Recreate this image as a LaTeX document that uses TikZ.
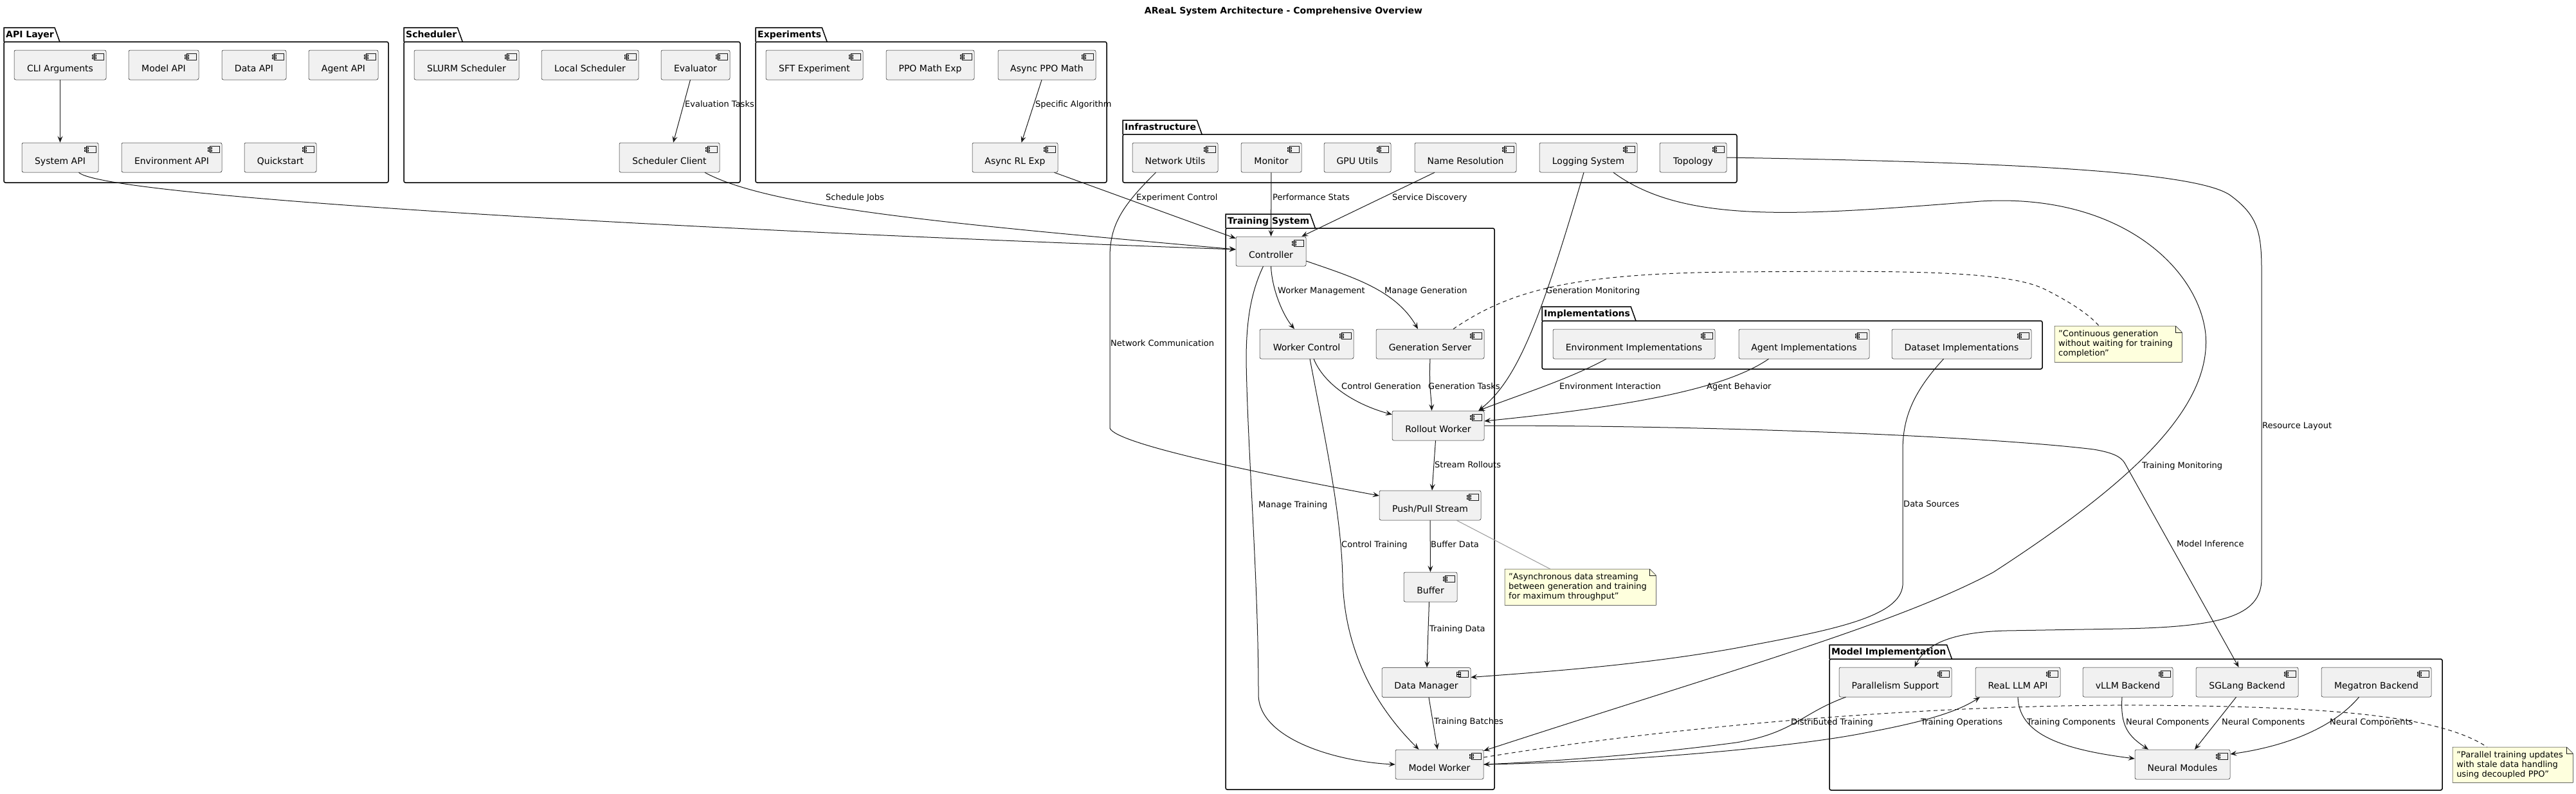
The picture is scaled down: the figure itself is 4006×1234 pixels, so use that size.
\documentclass[tikz,border=0pt]{standalone}
\usepackage{fontspec}
\setmainfont{DejaVu Sans}
\usetikzlibrary{arrows.meta,backgrounds}

\definecolor{compfill}{HTML}{F1F1F1}
\definecolor{compline}{HTML}{181818}
\definecolor{notefill}{HTML}{FEFFDD}

% package frame: name, left, tab top, right, bottom, title
\newcommand{\pkgbox}[6]{%
	\node[pkgtitle, anchor=north west] (#1) at (#2,#3) {#6};
	\draw[pkgline] (#2,#3+22) -- (#2,#3) -- ([xshift=-2pt]#1.north east) -- ([xshift=6pt]#1.south east);
	\draw[pkgline, rounded corners=2.5pt] (#2,#3+22) rectangle (#4,#5);
}

% note: name, left, top, text width, height, text
\newcommand{\notecard}[6]{%
	\node[notetext, anchor=north west, text width=#4pt, minimum height=#5pt] (#1) at (#2,#3) {#6};
	\begin{scope}[on background layer]
		\draw[noteline, fill=notefill] (#1.north west) -- ([xshift=-10pt]#1.north east) -- ([yshift=-10pt]#1.north east) -- (#1.south east) -- (#1.south west) -- cycle;
	\end{scope}
	\draw[noteline] ([xshift=-10pt]#1.north east) |- ([yshift=-10pt]#1.north east);
}

\begin{document}
\begin{tikzpicture}[x=1pt, y=-1pt,
	pkgline/.style={draw=black, line width=1.5pt},
	pkgtitle/.style={inner xsep=3pt, inner ysep=0pt, minimum height=22pt, text height=10.5pt, text depth=2.5pt, font=\bfseries\fontsize{14}{16}\selectfont},
	compicon/.style={path picture={
		\draw[compline, line width=0.5pt, fill=compfill, sharp corners]
			([xshift=-19pt,yshift=-5pt]path picture bounding box.north east) rectangle ([xshift=-4pt,yshift=-15pt]path picture bounding box.north east)
			([xshift=-22pt,yshift=-7pt]path picture bounding box.north east) rectangle ([xshift=-16pt,yshift=-9.5pt]path picture bounding box.north east)
			([xshift=-22pt,yshift=-11pt]path picture bounding box.north east) rectangle ([xshift=-16pt,yshift=-13.5pt]path picture bounding box.north east);
	}},
	comp/.style={draw=compline, line width=0.5pt, fill=compfill, rounded corners=2.5pt, minimum height=46pt, inner sep=0pt, text height=20pt, text depth=0pt, font=\fontsize{14}{16}\selectfont, compicon},
	lbl/.style={anchor=west, inner sep=0pt, text height=9.5pt, text depth=2.5pt, font=\fontsize{13}{15}\selectfont},
	notetext/.style={inner xsep=6pt, inner ysep=0pt, align=left, font=\fontsize{13}{15}\selectfont},
	noteline/.style={draw=compline, line width=0.5pt},
	arr/.style={draw=compline, line width=1pt, -{Stealth[length=10pt, width=8pt, inset=4pt]}},
	dashlink/.style={draw=compline, line width=1pt, dash pattern=on 6pt off 5pt},
	notelink/.style={draw=gray!80, line width=1pt}]

	% Page
	\useasboundingbox (0,0) rectangle (4006,1234);
	\begin{scope}[on background layer]
		\fill[white] (0,0) rectangle (4006,1234);
	\end{scope}

	% Title
	\node[font=\bfseries\fontsize{14}{16}\selectfont] (title) at (1996,18) {AReaL System Architecture - Comprehensive Overview};

	% Packages
	\pkgbox{pkg-api}{6}{43}{604}{284}{API Layer}
	\pkgbox{pkg-sched}{628}{43}{1151}{284}{Scheduler}
	\pkgbox{pkg-exp}{1175}{43}{1721}{284}{Experiments}
	\pkgbox{pkg-infra}{1746}{187}{2701}{284}{Infrastructure}
	\pkgbox{pkg-train}{1906}{333}{2324}{1228}{Training System}
	\pkgbox{pkg-impl}{2398}{477}{3176}{574}{Implementations}
	\pkgbox{pkg-model}{2845}{1003}{3798}{1229}{Model Implementation}

	% API layer
	\node[comp, minimum width=143pt] (cli) at (93.5,101) {CLI Arguments};
	\node[comp, minimum width=109pt] (modelapi) at (254.5,101) {Model API};
	\node[comp, minimum width=100pt] (dataapi) at (395,101) {Data API};
	\node[comp, minimum width=108pt] (agentapi) at (534,101) {Agent API};
	\node[comp, minimum width=119pt] (sysapi) at (93.5,245) {System API};
	\node[comp, minimum width=156pt] (envapi) at (267,245) {Environment API};
	\node[comp, minimum width=112pt] (quick) at (436,245) {Quickstart};

	% Scheduler
	\node[comp, minimum width=163pt] (slurm) at (725.5,101) {SLURM Scheduler};
	\node[comp, minimum width=151pt] (local) at (917.5,101) {Local Scheduler};
	\node[comp, minimum width=107pt] (evaluator) at (1081.5,101) {Evaluator};
	\node[comp, minimum width=156pt] (schedclient) at (1041,245) {Scheduler Client};

	% Experiments
	\node[comp, minimum width=151pt] (sft) at (1266.5,101) {SFT Experiment};
	\node[comp, minimum width=137pt] (ppomath) at (1446.5,101) {PPO Math Exp};
	\node[comp, minimum width=152pt] (asyncppo) at (1628,101) {Async PPO Math};
	\node[comp, minimum width=133pt] (asyncrl) at (1578.5,245) {Async RL Exp};

	% Infrastructure
	\node[comp, minimum width=133pt] (netutils) at (1827.5,245) {Network Utils};
	\node[comp, minimum width=94pt] (monitor) at (1977,245) {Monitor};
	\node[comp, minimum width=104pt] (gpu) at (2111,245) {GPU Utils};
	\node[comp, minimum width=158pt] (nameres) at (2279,245) {Name Resolution};
	\node[comp, minimum width=152pt] (logging) at (2470,245) {Logging System};
	\node[comp, minimum width=104pt] (topology) at (2633,245) {Topology};

	% Training system
	\node[comp, minimum width=109pt] (controller) at (1976.5,391) {Controller};
	\node[comp, minimum width=146pt] (workerctl) at (2032,535) {Worker Control};
	\node[comp, minimum width=168pt] (genserver) at (2224,535) {Generation Server};
	\node[comp, minimum width=143pt] (rollout) at (2236.5,662) {Rollout Worker};
	\node[comp, minimum width=158pt] (pushpull) at (2224,786) {Push/Pull Stream};
	\node[comp, minimum width=83pt] (buffer) at (2224.5,913) {Buffer};
	\node[comp, minimum width=138pt] (datamgr) at (2218,1061.5) {Data Manager};
	\node[comp, minimum width=137pt] (modelworker) at (2238.5,1189) {Model Worker};

	% Implementations
	\node[comp, minimum width=252pt] (envimpl) at (2541,535) {Environment Implementations};
	\node[comp, minimum width=203pt] (agentimpl) at (2805.5,535) {Agent Implementations};
	\node[comp, minimum width=217pt] (dataimpl) at (3050.5,535) {Dataset Implementations};

	% Model implementation
	\node[comp, minimum width=175pt] (parallel) at (2947.5,1061) {Parallelism Support};
	\node[comp, minimum width=132pt] (realllm) at (3138,1061) {ReaL LLM API};
	\node[comp, minimum width=140pt] (vllm) at (3309,1061) {vLLM Backend};
	\node[comp, minimum width=159pt] (sglang) at (3494.5,1061) {SGLang Backend};
	\node[comp, minimum width=171pt] (megatron) at (3695.5,1061) {Megatron Backend};
	\node[comp, minimum width=148pt] (neural) at (3394,1189) {Neural Modules};

	% Notes
	\notecard{note1}{2340}{885}{223}{56}{"Asynchronous data streaming\\between generation and training\\for maximum throughput"}
	\notecard{note2}{3195}{507}{186}{56}{"Continuous generation\\without waiting for training\\completion"}
	\notecard{note3}{3814}{1162}{175}{55}{"Parallel training updates\\with stale data handling\\using decoupled PPO"}

	% Connectors into the controller
	\draw[arr] (cli) -- (sysapi);
	\draw[arr] ([xshift=29pt]sysapi.south) .. controls (160,305) and (1000,355) .. ([yshift=3pt]controller.west);
	\draw[arr] ([xshift=-8pt]evaluator.south) -- ([xshift=6pt]schedclient.north);
	\draw[arr] ([xshift=55pt]schedclient.south) .. controls (1200,325) and (1500,350) .. ([yshift=3pt]controller.west);
	\draw[arr] ([xshift=-8pt]asyncppo.south) -- ([xshift=10pt]asyncrl.north);
	\draw[arr] ([xshift=61pt]asyncrl.south) -- ([yshift=-3pt]controller.north west);
	\draw[arr] (monitor) -- (controller);
	\draw[arr] ([xshift=-48pt]nameres.south) -- ([xshift=-7pt]controller.north east);

	% Infrastructure links
	\draw[arr] ([xshift=-30pt]netutils.south) .. controls (1745,320) and (1726,350) .. (1726,400) -- (1726,666) .. controls (1735,690) and (1950,735) .. ([yshift=15pt]pushpull.west);
	\draw[arr] ([xshift=-7pt]logging.south) .. controls (2395,500) and (2360,590) .. ([xshift=-9pt]rollout.north east);
	\draw[arr] ([xshift=39pt]logging.south) .. controls (2620,350) and (2800,335) .. (3080,313) .. controls (3300,300) and (3420,420) .. (3430,520) .. controls (3440,640) and (3300,760) .. (3100,890) .. controls (2950,970) and (2700,1040) .. ([yshift=-2pt]modelworker.north east);
	\draw[arr] (topology.east) .. controls (3100,252) and (3420,265) .. (3470,305) .. controls (3510,335) and (3517,360) .. (3517,420) -- (3517,900) .. controls (3517,960) and (3450,975) .. (3300,978) -- (3120,981) .. controls (3040,983) and (2995,1000) .. ([xshift=30pt]parallel.north);

	% Training system flow
	\draw[arr] (controller.south) .. controls (1978,450) and (1995,490) .. ([xshift=-19pt]workerctl.north);
	\draw[arr] ([yshift=-15pt]controller.east) .. controls (2100,430) and (2170,450) .. ([xshift=-19pt]genserver.north);
	\draw[arr] ([xshift=-12pt]controller.south) .. controls (1945,455) and (1938,500) .. (1938,560) .. controls (1940,700) and (1957,900) .. (1957,1080) .. controls (1957,1150) and (2080,1185) .. (modelworker.west);
	\draw[arr] ([xshift=11pt]workerctl.south) .. controls (2060,600) and (2110,630) .. ([yshift=-6pt]rollout.north west);
	\draw[arr] ([xshift=5pt]workerctl.south) .. controls (2060,680) and (2086,800) .. (2088,900) .. controls (2090,1000) and (2130,1090) .. ([xshift=-32pt]modelworker.north);
	\draw[arr] (genserver.south) .. controls (2222,600) and (2226,620) .. ([xshift=-10pt]rollout.north);
	\draw[arr] ([xshift=-4pt]rollout.south) -- ([xshift=3pt]pushpull.north);
	\draw[arr] (pushpull) -- (buffer);
	\draw[arr] ([xshift=-2pt]buffer.south) -- ([xshift=1pt]datamgr.north);
	\draw[arr] ([xshift=4pt]datamgr.south) -- ([xshift=-3pt]modelworker.north);

	% Implementations into the training system
	\draw[arr] ([xshift=-43pt]envimpl.south) .. controls (2440,590) and (2360,615) .. ([xshift=-9pt]rollout.north east);
	\draw[arr] ([xshift=-55pt]agentimpl.south) .. controls (2690,600) and (2560,630) .. ([yshift=7pt]rollout.east);
	\draw[arr] ([xshift=-28pt]dataimpl.south) .. controls (2975,610) and (2959,650) .. (2959,700) -- (2959,910) .. controls (2955,960) and (2850,980) .. (2700,1008) .. controls (2550,1035) and (2400,1045) .. ([yshift=8pt]datamgr.east);

	% Model implementation links
	\draw[arr] (rollout.east) .. controls (2700,662) and (3100,680) .. (3256,699) .. controls (3285,704) and (3298,710) .. (3304,720) -- ([xshift=-13pt]sglang.north);
	\draw[arr] ([xshift=-77pt]parallel.south) .. controls (2800,1110) and (2790,1140) .. (2700,1155) .. controls (2550,1175) and (2400,1185) .. (modelworker.east);
	\draw[arr] (modelworker.east) .. controls (2550,1185) and (2800,1160) .. (2900,1140) .. controls (2980,1125) and (3040,1110) .. ([xshift=-59pt]realllm.south);
	\draw[arr] (realllm.south) .. controls (3140,1140) and (3200,1165) .. ([yshift=9pt]neural.west);
	\draw[arr] ([xshift=-9pt]vllm.south) .. controls (3297,1130) and (3310,1145) .. ([xshift=-53pt]neural.north);
	\draw[arr] ([xshift=-17pt]sglang.south) -- ([xshift=19pt]neural.north);
	\draw[arr] ([xshift=-27pt]megatron.south) .. controls (3630,1130) and (3560,1160) .. ([yshift=16pt]neural.east);

	% Note links
	\draw[notelink] ([xshift=41pt]pushpull.south) -- ([xshift=-47pt]note1.north);
	\draw[dashlink] ([xshift=36pt]genserver.north) .. controls (2350,450) and (2450,425) .. (2700,423) .. controls (2950,421) and (3120,420) .. (3180,450) .. controls (3220,470) and (3250,490) .. ([xshift=-30pt]note2.north);
	\draw[dashlink] ([yshift=11pt]modelworker.east) .. controls (2600,1130) and (3000,1095) .. (3338,1097) .. controls (3600,1099) and (3790,1110) .. ([xshift=-40pt]note3.north);

	% Connector labels
	\node[lbl] (t-evaltasks) at (1065,163) {Evaluation Tasks};
	\node[lbl] (t-specalg) at (1610,163) {Specific Algorithm};
	\node[lbl] (t-schedjobs) at (1284,308) {Schedule Jobs};
	\node[lbl] (t-expctl) at (1767,308) {Experiment Control};
	\node[lbl] (t-perfstats) at (1979,308) {Performance Stats};
	\node[lbl] (t-servdisc) at (2165,308) {Service Discovery};
	\node[lbl] (t-netcomm) at (1727,535) {Network Communication};
	\node[lbl] (t-workermgmt) at (1987,453) {Worker Management};
	\node[lbl] (t-managegen) at (2153,453) {Manage Generation};
	\node[lbl] (t-genmon) at (2404,453) {Generation Monitoring};
	\node[lbl] (t-ctlgen) at (2086,602) {Control Generation};
	\node[lbl] (t-gentasks) at (2221,602) {Generation Tasks};
	\node[lbl] (t-envint) at (2425,602) {Environment Interaction};
	\node[lbl] (t-agentbeh) at (2654,602) {Agent Behavior};
	\node[lbl] (t-stream) at (2231,724) {Stream Rollouts};
	\node[lbl] (t-managetrain) at (1957,786) {Manage Training};
	\node[lbl] (t-ctltrain) at (2086,848) {Control Training};
	\node[lbl] (t-bufdata) at (2225,848) {Buffer Data};
	\node[lbl] (t-traindata) at (2223,979) {Training Data};
	\node[lbl] (t-trainbatch) at (2230,1123) {Training Batches};
	\node[lbl] (t-trainmon) at (3331,725) {Training Monitoring};
	\node[lbl] (t-datasrc) at (2960,785) {Data Sources};
	\node[lbl] (t-modelinf) at (3385,847) {Model Inference};
	\node[lbl] (t-reslayout) at (3518,663) {Resource Layout};
	\node[lbl] (t-disttrain) at (2785,1124) {Distributed Training};
	\node[lbl] (t-trainops) at (2987,1124) {Training Operations};
	\node[lbl] (t-traincomp) at (3152,1124) {Training Components};
	\node[lbl] (t-neural1) at (3306,1124) {Neural Components};
	\node[lbl] (t-neural2) at (3455,1124) {Neural Components};
	\node[lbl] (t-neural3) at (3623,1124) {Neural Components};
\end{tikzpicture}
\end{document}
